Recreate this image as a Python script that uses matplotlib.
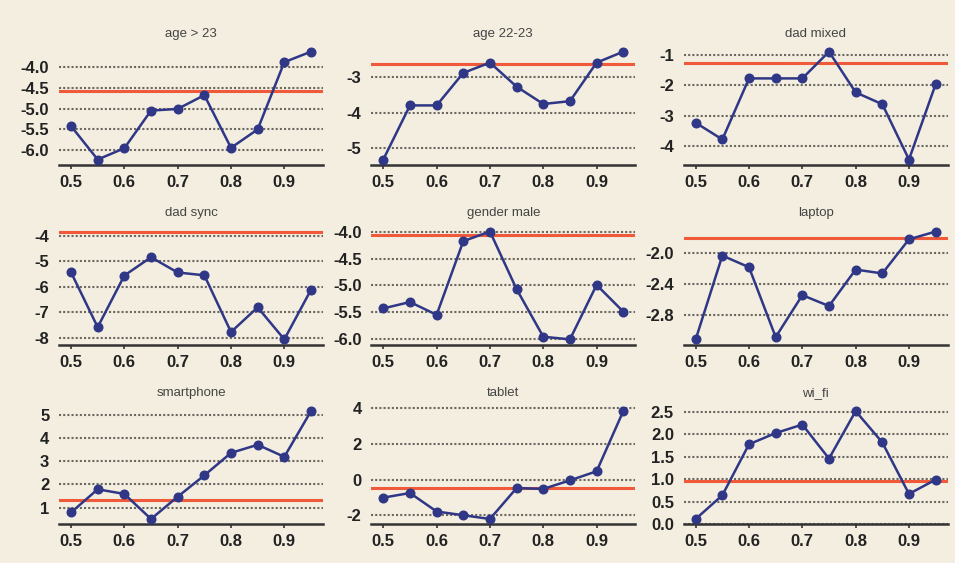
import matplotlib
matplotlib.use("Agg")
import matplotlib.pyplot as plt
import numpy as np

plt.rcParams['font.family'] = ['Liberation Sans', 'DejaVu Sans']

# 阈值（横轴）
thresholds = [0.5, 0.55, 0.6, 0.65, 0.7, 0.75, 0.8, 0.85, 0.9, 0.95]

# 各变量的系数序列与参考线
age_over_23 = [-5.42, -6.22, -5.95, -5.05, -5.01, -4.68, -5.94, -5.50, -3.89, -3.64]
age_22_23 = [-5.32, -3.79, -3.79, -2.87, -2.58, -3.26, -3.75, -3.67, -2.58, -2.27]
dad_mixed = [-3.23, -3.78, -1.77, -1.77, -1.77, -0.89, -2.23, -2.62, -4.44, -1.96]
dad_sync = [-5.43, -7.59, -5.56, -4.84, -5.44, -5.55, -7.78, -6.81, -8.07, -6.12]
gender_male = [-5.43, -5.31, -5.55, -4.17, -3.99, -5.07, -5.96, -6.01, -4.99, -5.49]
laptop = [-3.11, -2.03, -2.18, -3.08, -2.54, -2.68, -2.21, -2.26, -1.82, -1.72]
smartphone = [0.79, 1.79, 1.59, 0.51, 1.47, 2.39, 3.36, 3.71, 3.19, 5.16]
tablet = [-1.01, -0.75, -1.79, -2.00, -2.21, -0.47, -0.52, -0.04, 0.47, 3.85]
wi_fi = [0.11, 0.64, 1.78, 2.03, 2.22, 1.46, 2.52, 1.82, 0.67, 0.99]

titles = ['age > 23', 'age 22-23', 'dad mixed', 'dad sync', 'gender male',
          'laptop', 'smartphone', 'tablet', 'wi_fi']
series = [age_over_23, age_22_23, dad_mixed, dad_sync, gender_male,
          laptop, smartphone, tablet, wi_fi]
ref_values = [-4.57, -2.63, -1.25, -3.83, -4.06, -1.80, 1.33, -0.45, 0.95]

yticks = [
    [-6.0, -5.5, -5.0, -4.5, -4.0],
    [-5, -4, -3],
    [-4, -3, -2, -1],
    [-8, -7, -6, -5, -4],
    [-6.0, -5.5, -5.0, -4.5, -4.0],
    [-2.8, -2.4, -2.0],
    [1, 2, 3, 4, 5],
    [-2, 0, 2, 4],
    [0.0, 0.5, 1.0, 1.5, 2.0, 2.5],
]
ytick_fmt = ['%.1f', '%d', '%d', '%d', '%.1f', '%.1f', '%d', '%d', '%.1f']
xticks = [0.5, 0.6, 0.7, 0.8, 0.9]

BG = '#f3eedf'
NAVY = '#2f3786'
RED = '#f0593a'

fig = plt.figure(figsize=(9.55, 5.63), dpi=100, facecolor=BG)

lefts = [0.0618, 0.3888, 0.7159]
bottoms = [0.7071, 0.3876, 0.0686]
w, h = 0.2764, 0.2107

for i in range(9):
    r, c = divmod(i, 3)
    ax = fig.add_axes([lefts[c], bottoms[r], w, h])
    ax.set_facecolor(BG)
    y = np.array(series[i])
    ref = ref_values[i]

    # 纵轴范围包含参考线，上下各留 5%
    lo = min(y.min(), ref)
    hi = max(y.max(), ref)
    pad = (hi - lo) * 0.05
    ax.set_ylim(lo - pad, hi + pad)
    ax.set_xlim(0.4775, 0.9725)

    for t in yticks[i]:
        ax.axhline(t, color='#6b6862', lw=1.5, linestyle=(0, (1, 1)), zorder=1)
    ax.axhline(ref, color=RED, lw=2.2, zorder=2)
    ax.plot(thresholds, y, color=NAVY, lw=1.8, marker='o', markersize=6.2,
            markerfacecolor=NAVY, markeredgecolor=NAVY, zorder=3, clip_on=False)

    ax.set_yticks(yticks[i])
    ax.set_yticklabels([ytick_fmt[i] % t for t in yticks[i]])
    ax.set_xticks(xticks)
    ax.set_xticklabels(['%.1f' % t for t in xticks])

    for s in ['top', 'right', 'left']:
        ax.spines[s].set_visible(False)
    ax.spines['bottom'].set_color('#333333')
    ax.spines['bottom'].set_linewidth(1.8)

    ax.tick_params(axis='y', length=0, pad=7, labelsize=12, labelcolor='#222222')
    ax.tick_params(axis='x', length=3, width=1.2, color='#333333', pad=4,
                   labelsize=12, labelcolor='#222222')
    for lab in ax.get_xticklabels() + ax.get_yticklabels():
        lab.set_fontweight('bold')

    ax.set_title(titles[i], fontsize=9.5, color='#444444', pad=7)

fig.savefig('out.png', dpi=100, facecolor=BG)
